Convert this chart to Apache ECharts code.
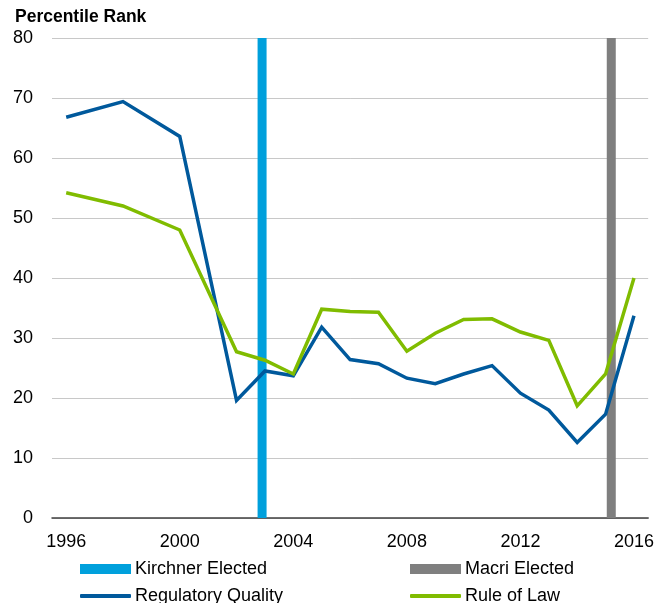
<!DOCTYPE html>
<html>
<head>
<meta charset="utf-8">
<script src="https://cdn.jsdelivr.net/npm/echarts@6/dist/echarts.min.js"></script>
<style>
  html, body { margin: 0; padding: 0; background: #fff; }
  #chart { width: 657px; height: 603px; }
</style>
</head>
<body>
<div id="chart"></div>
<script>
// Survey years (annual from 2002 on)
const years = [1996, 1998, 2000, 2002, 2003, 2004, 2005, 2006, 2007, 2008, 2009, 2010, 2011, 2012, 2013, 2014, 2015, 2016];
const regulatoryQuality = [66.8, 69.4, 63.6, 19.6, 24.5, 23.7, 31.8, 26.4, 25.7, 23.3, 22.4, 24.0, 25.4, 20.8, 18.0, 12.6, 17.3, 33.7];
const ruleOfLaw = [54.2, 52.0, 48.0, 27.7, 26.3, 24.0, 34.8, 34.4, 34.3, 27.8, 30.8, 33.1, 33.2, 31.0, 29.6, 18.7, 24.0, 40.0];

// Election markers (fractional year) drawn as full-height bars
const kirchnerElected = [[2002.9, 80]];
const macriElected = [[2015.2, 80]];

const yearTicks = [1996, 2000, 2004, 2008, 2012, 2016];

const FONT = '"Liberation Sans", Arial, sans-serif';
const colors = {
  kirchner: '#00A0DC',
  macri: '#7F7F7F',
  rq: '#00599C',
  rl: '#80BC00'
};

const pair = (xs, ys) => xs.map((x, i) => [x, ys[i]]);

const chart = echarts.init(document.getElementById('chart'), null, { renderer: 'canvas' });

const legendText = { fontFamily: FONT, fontSize: 18, color: '#000', padding: [0, 0, 0, -1] };

chart.setOption({
  animation: false,
  textStyle: { fontFamily: FONT },
  title: {
    text: 'Percentile Rank',
    left: 15,
    top: 8,
    padding: 0,
    textStyle: { fontFamily: FONT, fontSize: 17.5, fontWeight: 'bold', color: '#000' }
  },
  grid: { left: 52, right: 8, top: 38, bottom: 85, containLabel: false },
  legend: [
    { data: ['Kirchner Elected'], left: 80, top: 560, itemWidth: 51, itemHeight: 10, itemGap: 6, icon: 'rect', textStyle: legendText, padding: 0 },
    { data: ['Macri Elected'], left: 410, top: 560, itemWidth: 51, itemHeight: 10, itemGap: 6, icon: 'rect', textStyle: legendText, padding: 0 },
    { data: ['Regulatory Quality'], left: 80, top: 584, itemWidth: 51, itemHeight: 4, itemGap: 6, icon: 'roundRect', textStyle: legendText, padding: [3, 0, 0, 0] },
    { data: ['Rule of Law'], left: 410, top: 584, itemWidth: 51, itemHeight: 4, itemGap: 6, icon: 'roundRect', textStyle: legendText, padding: [3, 0, 0, 0] }
  ],
  xAxis: {
    type: 'value',
    min: 1995.5,
    max: 2016.5,
    splitLine: { show: false },
    axisTick: { show: false },
    axisLine: { show: true, onZero: false, lineStyle: { color: '#404040', width: 1.5 } },
    axisLabel: {
      customValues: yearTicks,
      formatter: v => String(v),
      fontFamily: FONT,
      fontSize: 18,
      color: '#000',
      margin: 15
    }
  },
  yAxis: {
    type: 'value',
    min: 0,
    max: 80,
    interval: 10,
    axisLine: { show: false },
    axisTick: { show: false },
    splitLine: { show: true, lineStyle: { color: '#C8C8C8', width: 1 } },
    axisLabel: { fontFamily: FONT, fontSize: 18, color: '#000', margin: 19 }
  },
  series: [
    {
      name: 'Kirchner Elected',
      type: 'bar',
      data: kirchnerElected,
      barWidth: 9,
      barGap: '-100%',
      itemStyle: { color: colors.kirchner }
    },
    {
      name: 'Macri Elected',
      type: 'bar',
      data: macriElected,
      barWidth: 9,
      barGap: '-100%',
      itemStyle: { color: colors.macri }
    },
    {
      name: 'Regulatory Quality',
      type: 'line',
      data: pair(years, regulatoryQuality),
      showSymbol: false,
      symbol: 'none',
      itemStyle: { color: colors.rq },
      lineStyle: { color: colors.rq, width: 3.5, join: 'miter' }
    },
    {
      name: 'Rule of Law',
      type: 'line',
      data: pair(years, ruleOfLaw),
      showSymbol: false,
      symbol: 'none',
      itemStyle: { color: colors.rl },
      lineStyle: { color: colors.rl, width: 3.5, join: 'miter' }
    }
  ]
});
</script>
</body>
</html>
